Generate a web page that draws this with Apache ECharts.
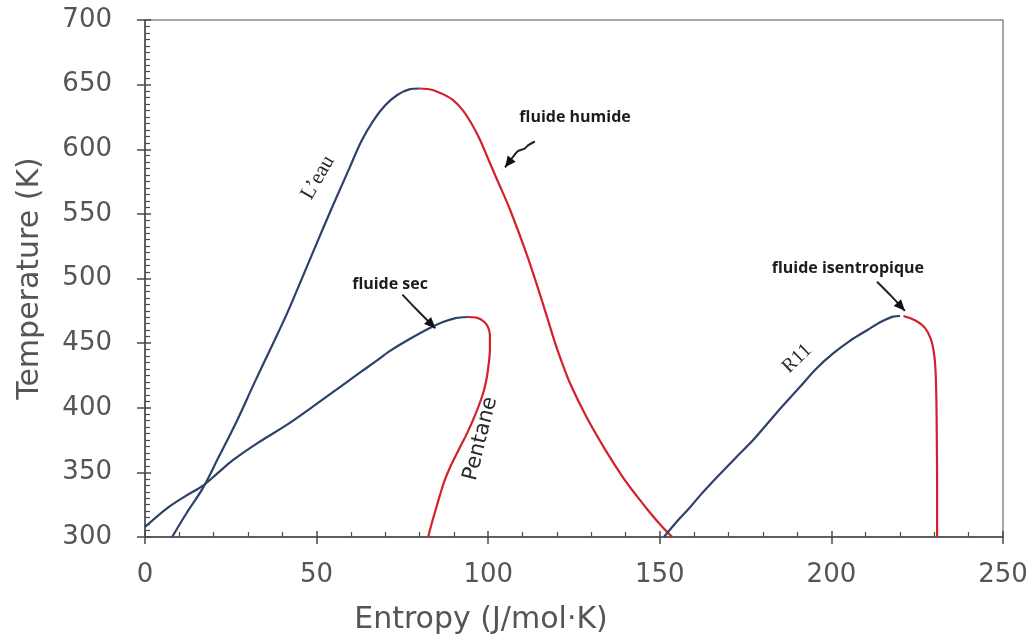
<!DOCTYPE html>
<html>
<head>
<meta charset="utf-8">
<script src="https://cdn.jsdelivr.net/npm/echarts@6/dist/echarts.min.js"></script>
<style>
  html, body { margin: 0; padding: 0; background: #fff; }
  #chart { width: 1036px; height: 644px; }
</style>
</head>
<body>
<div id="chart"></div>
<script>
// Saturation domes on a T–s diagram: entropy (J/mol·K) vs temperature (K)
const xTicks = [0, 50, 100, 150, 200, 250];
const yTicks = [300, 350, 400, 450, 500, 550, 600, 650, 700];

// Water: saturated liquid branch (blue) and saturated vapour branch (red)
const waterLiquid = [[7.9,300],[12,318],[16.9,338],[21.5,362],[26.8,390],[32,420],[37,448],[41.4,473],[44.3,491],[50,527],[55,558],[59.5,585],[63,606],[66.5,622],[70,634],[73.5,642],[77,646.3],[80,647]];
const waterVapour = [[80,647],[83.5,646],[86.5,643],[89.5,638.5],[92.5,630.5],[95,620.5],[97.5,608],[100,592.5],[102.5,577],[106.4,553],[111.3,518],[116,480],[119.5,450],[121.5,435],[124,418],[128.8,392],[134,368],[139.3,346],[143.5,331],[147.1,319],[150.5,308.5],[153.6,300]];

// Pentane
const pentaneLiquid = [[0,307.7],[6.3,322],[12,332],[17,340],[21,349],[25.7,359.6],[33,373],[41.3,386.7],[49,401],[56.8,416],[62,426],[67,435.5],[71.4,444],[77,453],[83,461.7],[87,466.5],[90.5,469.4],[93.8,470.2]];
const pentaneVapour = [[93.8,470.2],[96.8,469.5],[98.8,466.5],[100,462],[100.5,456],[100.5,445],[100.1,433],[99.5,422],[98.5,411],[96.3,395],[93.8,380],[91.3,367],[88.9,354],[87.2,343],[85.9,332],[84.8,322],[83.7,312],[82.5,300]];

// R11
const r11Liquid = [[151.2,300],[155,312],[158.5,322],[161.7,332],[166.7,346.4],[172,361],[177.2,375],[184,396],[190.8,416],[195.5,430],[200.5,442],[205.5,452],[210.4,460],[214.5,466.5],[218,470.5],[220,471]];
const r11Vapour = [[221,471],[224.5,467.5],[227.2,462],[229,453],[230,440],[230.4,425],[230.6,405],[230.7,380],[230.8,340],[230.8,300]];

// Curve names written along the domes: text, [entropy, temperature], angle in degrees
const curveNames = ['L\u2019eau', 'Pentane', 'R11'];
const curveNameAt = [[50.4, 578], [97.8, 376], [190, 438]];
const curveNameAngle = [60, 76, 44];

// Callouts: text, text anchor, arrow path (data coordinates)
const calloutTexts = ['fluide humide', 'fluide sec', 'fluide isentropique'];
const calloutAt = [[125.3, 625], [71.4, 495.5], [204.8, 508]];
const calloutArrows = [
  [[113.6, 606], [111.6, 603], [110.6, 600.5], [108.6, 598.5], [107.2, 594], [104.9, 586]],
  [[75, 487.5], [79.5, 475], [84.6, 461.5]],
  [[213.3, 497.5], [217.6, 486], [221.4, 475]]
];

const BLUE = '#2d4169';
const RED = '#d3202d';
const AXIS = '#4a4a4a';
const TEXT = '#555555';

const chart = echarts.init(document.getElementById('chart'), null, { renderer: 'canvas' });

function curve(data, color) {
  return {
    type: 'line', data: data, xAxisIndex: 0, yAxisIndex: 0,
    smooth: 0.35, showSymbol: false, symbol: 'none', clip: true,
    lineStyle: { color: color, width: 2.2 }, z: 3
  };
}

const labelFont = { fontFamily: 'DejaVu Sans', fontSize: 26, color: TEXT };

chart.setOption({
  animation: false,
  backgroundColor: '#ffffff',
  grid: { left: 145, right: 33, top: 20, bottom: 107, show: true, borderColor: '#8a8a8a', borderWidth: 1.5, backgroundColor: 'transparent' },
  xAxis: [
    {
      type: 'value', min: xTicks[0], max: xTicks[xTicks.length - 1], interval: 50,
      position: 'bottom',
      axisLine: { show: true, lineStyle: { color: AXIS, width: 1.5 } },
      axisTick: { show: true, inside: false, length: 7, lineStyle: { color: AXIS, width: 1.5 } },
      axisLabel: Object.assign({ margin: 25 }, labelFont),
      splitLine: { show: false },
      name: 'Entropy (J/mol\u00b7K)', nameLocation: 'middle', nameGap: 68,
      nameTextStyle: { fontFamily: 'DejaVu Sans', fontSize: 30, color: TEXT, padding: [0, 186, 0, 0] }
    },
    {
      type: 'value', min: xTicks[0], max: xTicks[xTicks.length - 1], interval: 50,
      position: 'bottom', offset: 0,
      axisLine: { show: false },
      axisTick: { show: true, inside: true, length: 6, lineStyle: { color: AXIS, width: 1.5 } },
      minorTick: { show: true, splitNumber: 5, length: 5, lineStyle: { color: AXIS, width: 1.2 } },
      axisLabel: { show: false }, splitLine: { show: false }
    }
  ],
  yAxis: [
    {
      type: 'value', min: yTicks[0], max: yTicks[yTicks.length - 1], interval: 50,
      position: 'left',
      axisLine: { show: true, lineStyle: { color: AXIS, width: 1.5 } },
      axisTick: { show: true, inside: false, length: 8, lineStyle: { color: AXIS, width: 1.5 } },
      axisLabel: Object.assign({ margin: 33 }, labelFont),
      splitLine: { show: false },
      name: 'Temperature (K)', nameLocation: 'middle', nameGap: 100, nameRotate: 90,
      nameTextStyle: { fontFamily: 'DejaVu Sans', fontSize: 30, color: TEXT }
    },
    {
      type: 'value', min: yTicks[0], max: yTicks[yTicks.length - 1], interval: 50,
      position: 'left', offset: 0,
      axisLine: { show: false },
      axisTick: { show: true, inside: true, length: 6, lineStyle: { color: AXIS, width: 1.5 } },
      minorTick: { show: true, splitNumber: 10, length: 5, lineStyle: { color: AXIS, width: 1.2 } },
      axisLabel: { show: false }, splitLine: { show: false }
    }
  ],
  series: [
    curve(waterLiquid, BLUE),
    curve(waterVapour, RED),
    curve(pentaneLiquid, BLUE),
    curve(pentaneVapour, RED),
    curve(r11Liquid, BLUE),
    curve(r11Vapour, RED)
  ]
});

// Annotations placed through the axis scales
function px(p) { return chart.convertToPixel({ xAxisIndex: 0, yAxisIndex: 0 }, p); }

const graphics = [];
const nameFonts = [
  '21px "Liberation Serif", "DejaVu Serif", serif',
  '21px "DejaVu Sans", sans-serif',
  '20px "Liberation Serif", "DejaVu Serif", serif'
];
curveNames.forEach(function (t, i) {
  const p = px(curveNameAt[i]);
  graphics.push({
    type: 'text', x: p[0], y: p[1], rotation: curveNameAngle[i] * Math.PI / 180, z: 10,
    style: { text: t, font: nameFonts[i], fill: '#2a2a2a', align: 'center', verticalAlign: 'middle' }
  });
});

calloutTexts.forEach(function (t, i) {
  const p = px(calloutAt[i]);
  graphics.push({
    type: 'text', x: p[0], y: p[1], z: 10,
    style: { text: t, font: 'bold 16px "Open Sans", "DejaVu Sans", sans-serif', fill: '#1c1c1c', align: 'center', verticalAlign: 'middle' }
  });
  const pts = calloutArrows[i].map(px);
  graphics.push({
    type: 'polyline', z: 10,
    shape: { points: pts, smooth: 0.3 },
    style: { stroke: '#222', lineWidth: 2, fill: null }
  });
  // arrow head
  const a = pts[pts.length - 2], b = pts[pts.length - 1];
  const ang = Math.atan2(b[1] - a[1], b[0] - a[0]);
  const L = 11, W = 5;
  const bx = b[0] - L * Math.cos(ang), by = b[1] - L * Math.sin(ang);
  graphics.push({
    type: 'polygon', z: 11,
    shape: { points: [b, [bx + W * Math.sin(ang), by - W * Math.cos(ang)], [bx - W * Math.sin(ang), by + W * Math.cos(ang)]] },
    style: { fill: '#111', stroke: null }
  });
});

chart.setOption({ graphic: graphics });
</script>
</body>
</html>
